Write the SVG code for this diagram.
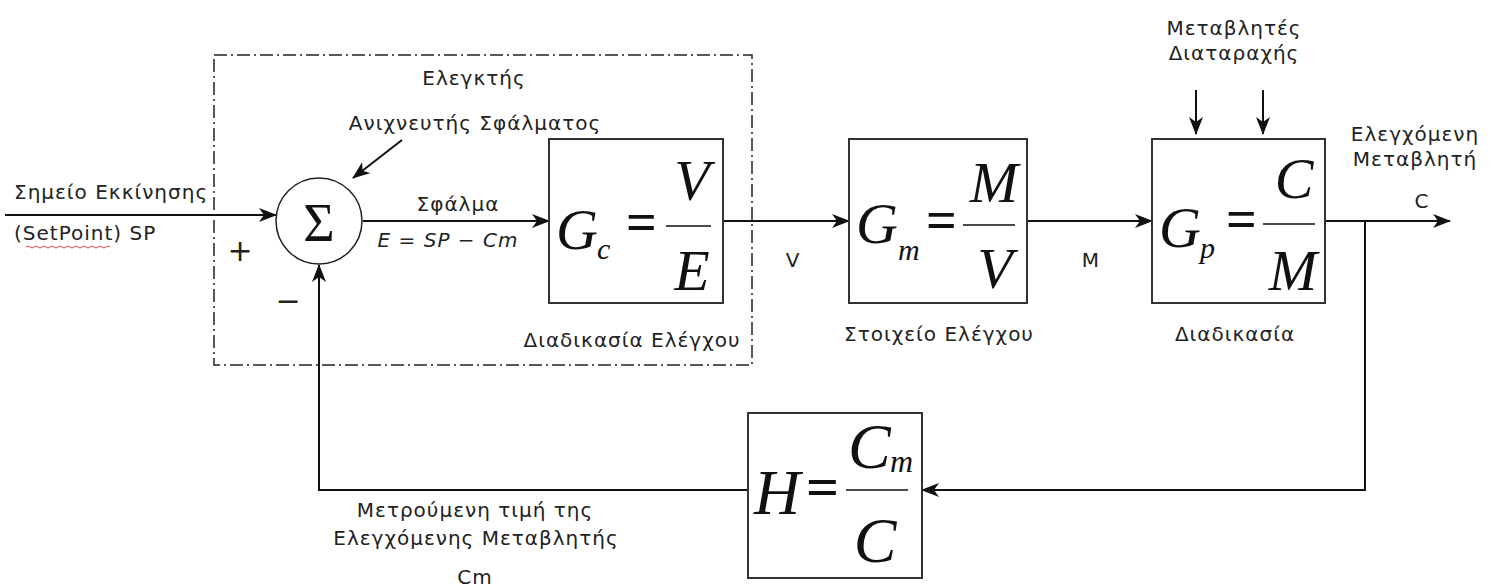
<svg xmlns="http://www.w3.org/2000/svg" width="1500" height="588" viewBox="0 0 1500 588">
<style>
.lbl{font-family:"DejaVu Sans","Liberation Sans",sans-serif;font-size:20px;letter-spacing:1px;fill:#222}
.sign{font-family:"DejaVu Sans","Liberation Sans",sans-serif;font-size:30px;fill:#222}
.mi{font-family:"Liberation Serif","DejaVu Serif",serif;font-style:italic;fill:#111}
.mr{font-family:"Liberation Serif","DejaVu Serif",serif;fill:#111}
.eq{font-family:"Liberation Serif","DejaVu Serif",serif;font-weight:bold;fill:#111}
.box{fill:#fff;stroke:#333;stroke-width:2}
.wire{fill:none;stroke:#111;stroke-width:2}
.frac{stroke:#111;stroke-width:1.6}
</style>
<defs>
<marker id="ah" viewBox="0 0 18 14" refX="17" refY="7" markerWidth="18" markerHeight="14" markerUnits="userSpaceOnUse" orient="auto">
<path d="M0,0 L18,7 L0,14 L5,7 z" fill="#111"/>
</marker>
</defs>
<rect width="1500" height="588" fill="#fff"/>

<g id="controller-boundary">
<rect x="214" y="55" width="538" height="310" fill="none" stroke="#222" stroke-width="1.5" stroke-dasharray="13 4 2 4"/>
<text class="lbl" x="474" y="85" text-anchor="middle">Ελεγκτής</text>
</g>

<g id="connectors">
<path class="wire" d="M5,215 H276" marker-end="url(#ah)"/>
<path class="wire" d="M363,221 H549" marker-end="url(#ah)"/>
<path class="wire" d="M723,221 H849" marker-end="url(#ah)"/>
<path class="wire" d="M1027,221 H1152" marker-end="url(#ah)"/>
<path class="wire" d="M1325,221 H1450" marker-end="url(#ah)"/>
<path class="wire" d="M1365,221 V490 H922" marker-end="url(#ah)"/>
<path class="wire" d="M748,490 H319 V265" marker-end="url(#ah)"/>
<path class="wire" d="M1196,90 V134" marker-end="url(#ah)"/>
<path class="wire" d="M1263,90 V134" marker-end="url(#ah)"/>
<path class="wire" d="M402,140 L353,178" stroke-width="1.6" marker-end="url(#ah)"/>
</g>

<g id="sum">
<circle cx="319" cy="221" r="43" fill="#fff" stroke="#222" stroke-width="1.5"/>
<text class="mr" x="319" y="241" font-size="54" text-anchor="middle">Σ</text>
<text class="sign" x="240" y="261" text-anchor="middle">+</text>
<text class="sign" x="288" y="311" text-anchor="middle">−</text>
<text class="lbl" x="475" y="130" text-anchor="middle">Ανιχνευτής Σφάλματος</text>
</g>

<g id="input-label">
<text class="lbl" x="14" y="199">Σημείο Εκκίνησης</text>
<text class="lbl" x="14" y="240">(SetPoint) SP</text>
<path d="M26,247 q2,-2 4,0 t4,0 t4,0 t4,0 t4,0 t4,0 t4,0 t4,0 t4,0 t4,0 t4,0 t4,0 t4,0 t4,0 t4,0 t4,0 t4,0 t4,0 t4,0 t4,0 t4,0" fill="none" stroke="#d44" stroke-width="1"/>
</g>

<g id="error-label">
<text class="lbl" x="458" y="211" text-anchor="middle">Σφάλμα</text>
<text class="lbl" x="448" y="247" text-anchor="middle" font-style="italic">E = SP − Cm</text>
</g>

<g id="Gc">
<rect class="box" x="549" y="139" width="174" height="164"/>
<text class="mi" x="556" y="249" font-size="58">G</text>
<text class="mi" x="597" y="259" font-size="30">c</text>
<text class="eq" x="626" y="240" font-size="54">=</text>
<line class="frac" x1="666" y1="226" x2="711" y2="226"/>
<text class="mi" x="692" y="200" font-size="58" text-anchor="middle">V</text>
<text class="mi" x="692" y="290" font-size="58" text-anchor="middle">E</text>
<text class="lbl" x="632" y="347" text-anchor="middle">Διαδικασία Ελέγχου</text>
</g>

<text class="lbl" x="793" y="267" text-anchor="middle">V</text>

<g id="Gm">
<rect class="box" x="849" y="139" width="178" height="164"/>
<text class="mi" x="856" y="243" font-size="58">G</text>
<text class="mi" x="898" y="260" font-size="30">m</text>
<text class="eq" x="926" y="238" font-size="54">=</text>
<line class="frac" x1="963" y1="225" x2="1015" y2="225"/>
<text class="mi" x="994" y="202" font-size="58" text-anchor="middle">M</text>
<text class="mi" x="995" y="288" font-size="58" text-anchor="middle">V</text>
<text class="lbl" x="939" y="341" text-anchor="middle">Στοιχείο Ελέγχου</text>
</g>

<text class="lbl" x="1091" y="267" text-anchor="middle">M</text>

<g id="Gp">
<rect class="box" x="1152" y="139" width="173" height="164"/>
<text class="mi" x="1159" y="247" font-size="58">G</text>
<text class="mi" x="1200" y="258" font-size="30">p</text>
<text class="eq" x="1226" y="237" font-size="54">=</text>
<line class="frac" x1="1263" y1="224" x2="1315" y2="224"/>
<text class="mi" x="1294" y="198" font-size="58" text-anchor="middle">C</text>
<text class="mi" x="1293" y="290" font-size="58" text-anchor="middle">M</text>
<text class="lbl" x="1235" y="341" text-anchor="middle">Διαδικασία</text>
</g>

<g id="disturbance-label">
<text class="lbl" x="1234" y="35" text-anchor="middle">Μεταβλητές</text>
<text class="lbl" x="1234" y="60" text-anchor="middle">Διαταραχής</text>
</g>

<g id="output-label">
<text class="lbl" x="1415" y="141" text-anchor="middle">Ελεγχόμενη</text>
<text class="lbl" x="1415" y="166" text-anchor="middle">Μεταβλητή</text>
<text class="lbl" x="1422" y="208" text-anchor="middle">C</text>
</g>

<g id="H">
<rect class="box" x="748" y="413" width="174" height="165"/>
<text class="mi" x="754" y="514" font-size="64">H</text>
<text class="eq" x="806" y="506" font-size="58">=</text>
<line class="frac" x1="846" y1="490" x2="908" y2="490"/>
<text class="mi" x="848" y="468" font-size="64">C</text>
<text class="mi" x="890" y="472" font-size="32">m</text>
<text class="mi" x="875" y="562" font-size="64" text-anchor="middle">C</text>
</g>

<g id="feedback-label">
<text class="lbl" x="475" y="517" text-anchor="middle">Μετρούμενη τιμή της</text>
<text class="lbl" x="476" y="545" text-anchor="middle">Ελεγχόμενης Μεταβλητής</text>
<text class="lbl" x="475" y="584" text-anchor="middle">Cm</text>
</g>
</svg>
